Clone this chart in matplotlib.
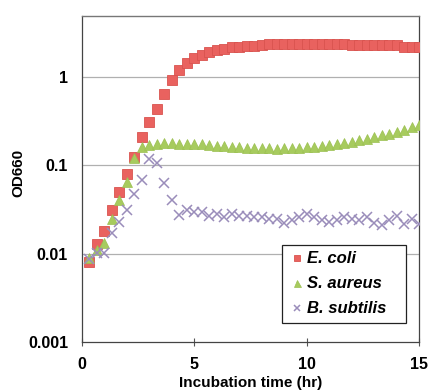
import numpy as np
import matplotlib
matplotlib.use("Agg")
import matplotlib.pyplot as plt

plt.rcParams['font.family'] = ['Liberation Sans', 'DejaVu Sans']

time_hr = [i / 3 for i in range(1, 46)]

e_coli = [0.008, 0.013, 0.018, 0.031, 0.050, 0.079, 0.125, 0.21, 0.31, 0.44,
          0.64, 0.92, 1.22, 1.45, 1.63, 1.78, 1.91, 2.02, 2.10, 2.17,
          2.22, 2.26, 2.28, 2.31, 2.40, 2.40, 2.40, 2.40, 2.40, 2.40,
          2.40, 2.40, 2.40, 2.40, 2.40, 2.30, 2.30, 2.30, 2.30, 2.30,
          2.30, 2.30, 2.22, 2.22, 2.22]

s_aureus = [0.009, 0.011, 0.0133, 0.025, 0.041, 0.065, 0.12, 0.16, 0.17, 0.175,
            0.178, 0.178, 0.177, 0.176, 0.175, 0.173, 0.171, 0.168, 0.165, 0.163,
            0.16, 0.158, 0.157, 0.156, 0.156, 0.155, 0.156, 0.157, 0.158, 0.16,
            0.162, 0.166, 0.17, 0.175, 0.18, 0.186, 0.193, 0.20, 0.21, 0.22,
            0.23, 0.242, 0.255, 0.27, 0.29]

b_subtilis = [0.0087, 0.0103, 0.0101, 0.017, 0.0227, 0.031, 0.047, 0.069, 0.117, 0.106,
              0.063, 0.041, 0.0277, 0.031, 0.030, 0.0295, 0.027, 0.028, 0.026, 0.028,
              0.027, 0.0265, 0.026, 0.026, 0.025, 0.025, 0.0225, 0.024, 0.026, 0.028,
              0.026, 0.024, 0.023, 0.024, 0.026, 0.025, 0.024, 0.026, 0.0225, 0.021,
              0.024, 0.027, 0.0215, 0.025, 0.022]

labels = ["E. coli", "S. aureus", "B. subtilis"]
x_ticks = [0, 5, 10, 15]
y_ticks = [0.001, 0.01, 0.1, 1]
y_ticklabels = ["0.001", "0.01", "0.1", "1"]

fig = plt.figure(figsize=(4.28, 3.91), dpi=100)
ax = fig.add_axes([0.1916, 0.1253, 0.7874, 0.8337])

ax.plot(time_hr, e_coli, linestyle='none', marker='s', markersize=6.8,
        markerfacecolor='#E9625F', markeredgecolor='#D9534F', markeredgewidth=0.6,
        label=labels[0], zorder=3)
ax.plot(time_hr, s_aureus, linestyle='none', marker='^', markersize=7.2,
        markerfacecolor='#A7CB5E', markeredgecolor='#9BC051', markeredgewidth=0.5,
        label=labels[1], zorder=4)
ax.plot(time_hr, b_subtilis, linestyle='none', marker='x', markersize=6.5,
        markeredgecolor='#9A8DBA', markeredgewidth=1.1,
        label=labels[2], zorder=5)

ax.set_yscale('log')
ax.set_ylim(0.001, 4.93)
ax.set_xlim(0, 15)
ax.set_xticks(x_ticks)
ax.set_xticklabels([str(v) for v in x_ticks], fontsize=11.5, fontweight='bold')
ax.set_yticks(y_ticks)
ax.set_yticklabels(y_ticklabels, fontsize=11.5, fontweight='bold')
ax.yaxis.set_minor_locator(matplotlib.ticker.NullLocator())
ax.tick_params(axis='x', direction='inout', length=6, width=0.8, color='#555555', pad=8)
ax.tick_params(axis='y', length=0, pad=10)

for v in [0.01, 0.1, 1]:
    ax.axhline(v, color='#B0B0B0', linewidth=0.9, zorder=1)

for side in ['left', 'bottom']:
    ax.spines[side].set_color('#444444')
    ax.spines[side].set_linewidth(0.9)
ax.spines['top'].set_color('#777777')
ax.spines['right'].set_color('#444444')
ax.spines['top'].set_linewidth(1.0)
ax.spines['right'].set_linewidth(0.9)

ax.set_xlabel("Incubation time (hr)", fontsize=11, fontweight='bold')
ax.xaxis.set_label_coords(0.5, -0.127, transform=ax.transAxes)
ax.xaxis.label.set_va('center')
ax.set_ylabel("OD660", fontsize=11, fontweight='bold')
ax.yaxis.set_label_coords(-0.19, 0.52, transform=ax.transAxes)
ax.yaxis.label.set_va('center')

leg = ax.legend(loc='lower left', bbox_to_anchor=(0.593, 0.058, 0.368, 0.23),
                mode='expand', frameon=True,
                fancybox=False, edgecolor='#222222', framealpha=1,
                prop={'weight': 'bold', 'style': 'italic', 'size': 12},
                markerscale=0.7, handlelength=1.0, handletextpad=0.1,
                borderpad=0.4, labelspacing=0.6, borderaxespad=0)
leg.get_frame().set_linewidth(0.9)

fig.savefig("out.png", dpi=100)
